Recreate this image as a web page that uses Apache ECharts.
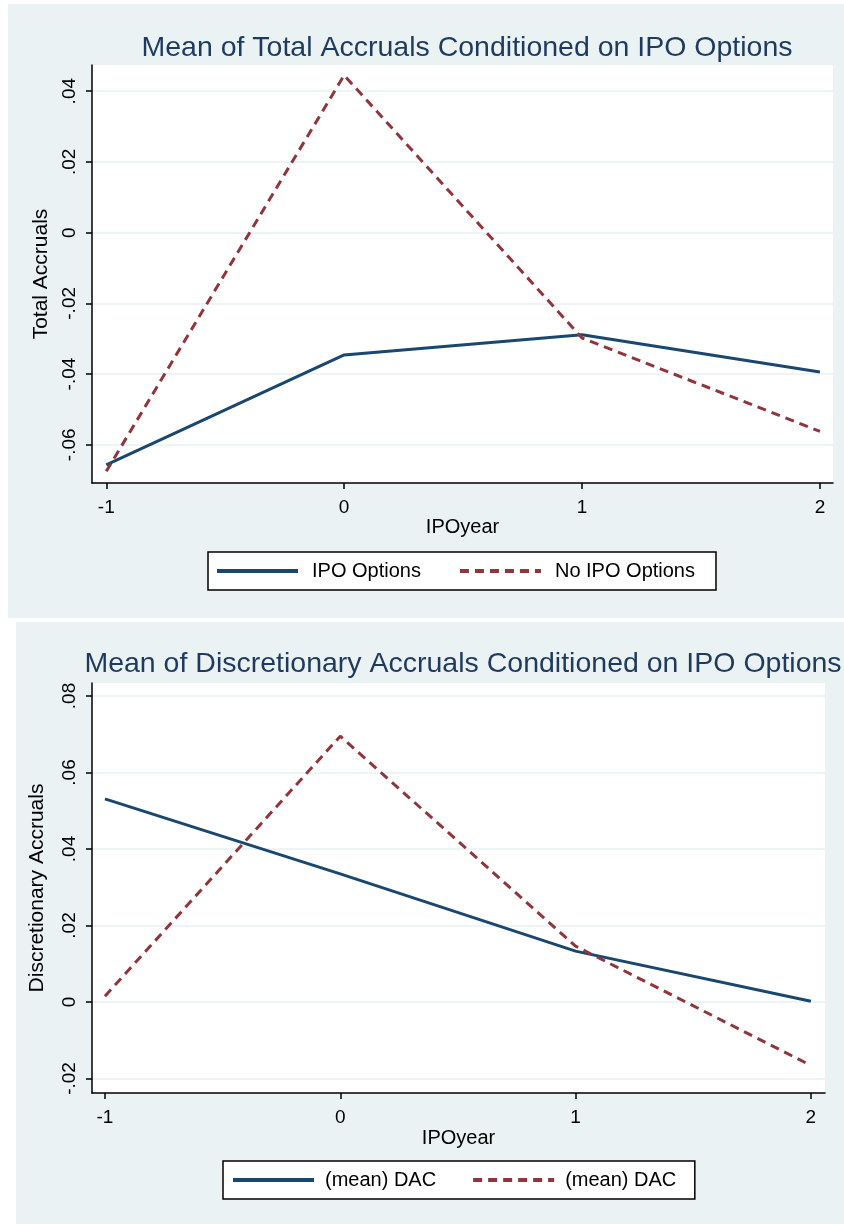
<!DOCTYPE html>
<html>
<head>
<meta charset="utf-8">
<script src="https://cdn.jsdelivr.net/npm/echarts@6/dist/echarts.min.js"></script>
<style>
  html, body { margin: 0; padding: 0; background: #fff; }
  #chart { width: 844px; height: 1224px; }
</style>
</head>
<body>
<div id="chart"></div>
<script>
const ipoYears = [-1, 0, 1, 2]

// top panel: total accruals
const taOptions = [-0.0657, -0.0346, -0.0289, -0.0394]
const taNoOptions = [-0.0675, 0.0445, -0.0298, -0.0562]
const taTicks = [-0.06, -0.04, -0.02, 0, 0.02, 0.04]

// bottom panel: discretionary accruals
const dacOptions = [0.0531, 0.0335, 0.0133, 0.0002]
const dacNoOptions = [0.0015, 0.0695, 0.0146, -0.0166]
const dacTicks = [-0.02, 0, 0.02, 0.04, 0.06, 0.08]

const navy = '#1a476f'
const maroon = '#90353b'
const panelBg = '#eaf2f3'
const titleColor = '#1e3a5f'
const font = 'Liberation Sans, Arial, sans-serif'

// stata style: .04 / -.02 / 0
const stataFmt = (v) => {
  if (Math.abs(v) < 1e-9) return '0'
  const s = (Math.round(v * 100) / 100).toFixed(2)
  return s.replace('0.', '.')
}

const pair = (arr) => ipoYears.map((x, i) => [x, arr[i]])

const chart = echarts.init(document.getElementById('chart'))

const xAxisBase = (gridIndex, min, max, nameGap) => ({
  type: 'value',
  gridIndex,
  min,
  max,
  name: 'IPOyear',
  nameLocation: 'middle',
  nameGap,
  nameTextStyle: { color: '#000', fontSize: 20, fontFamily: font },
  axisLine: { onZero: false, lineStyle: { color: '#000', width: 1.5 } },
  axisTick: { customValues: ipoYears, length: 6, lineStyle: { color: '#000', width: 1.5 } },
  axisLabel: { customValues: ipoYears, color: '#000', fontSize: 19, fontFamily: font, margin: 15 },
  splitLine: { show: false }
})

const yAxisBase = (gridIndex, min, max, ticks, name, nameGap) => ({
  type: 'value',
  gridIndex,
  min,
  max,
  name,
  nameLocation: 'middle',
  nameGap,
  nameTextStyle: { color: '#000', fontSize: 21, fontFamily: font },
  axisLine: { show: true, onZero: false, lineStyle: { color: '#000', width: 1.5 } },
  axisTick: { show: true, customValues: ticks, length: 6, lineStyle: { color: '#000', width: 1.5 } },
  axisLabel: {
    customValues: ticks,
    rotate: 90,
    color: '#000',
    fontSize: 19,
    fontFamily: font,
    margin: 13,
    formatter: stataFmt
  },
  splitLine: { show: true, lineStyle: { color: panelBg, width: 1.5 } }
})

const lineSeries = (name, data, idx, color, dashed) => ({
  name,
  type: 'line',
  xAxisIndex: idx,
  yAxisIndex: idx,
  data: pair(data),
  symbol: 'none',
  lineStyle: { color, width: 3, type: dashed ? [9, 6] : 'solid' },
  itemStyle: { color }
})

const legendBase = (top, left, padding, itemGap, textPad, items) => ({
  top,
  left,
  data: items,
  orient: 'horizontal',
  itemWidth: 81,
  itemHeight: 4,
  itemGap,
  padding,
  backgroundColor: '#fff',
  borderColor: '#000',
  borderWidth: 1.5,
  borderRadius: 0,
  itemStyle: { opacity: 0 },
  lineStyle: { width: 4 },
  textStyle: { color: '#000', fontSize: 20, fontFamily: font, padding: [0, 0, 0, textPad] }
})

const option = {
  backgroundColor: '#fff',
  animation: false,
  graphic: [
    { type: 'rect', left: 8, top: 4, shape: { width: 836, height: 614 }, style: { fill: panelBg }, z: -10 },
    { type: 'rect', left: 16, top: 622, shape: { width: 828, height: 602 }, style: { fill: panelBg }, z: -10 }
  ],
  title: [
    {
      text: 'Mean of Total Accruals Conditioned on IPO Options',
      left: 462, top: 29, textAlign: 'center',
      textStyle: { color: titleColor, fontSize: 28.5, fontWeight: 'normal', fontFamily: font }
    },
    {
      text: 'Mean of Discretionary Accruals Conditioned on IPO Options',
      left: 458, top: 645, textAlign: 'center',
      textStyle: { color: titleColor, fontSize: 28.5, fontWeight: 'normal', fontFamily: font }
    }
  ],
  grid: [
    { left: 92, top: 65, right: 11, bottom: 741, show: true, backgroundColor: '#fff', borderWidth: 0 },
    { left: 92, top: 683, right: 19, bottom: 131, show: true, backgroundColor: '#fff', borderWidth: 0 }
  ],
  xAxis: [
    xAxisBase(0, -1.06, 2.055, 30),
    xAxisBase(1, -1.055, 2.06, 35)
  ],
  yAxis: [
    yAxisBase(0, -0.0708, 0.0474, taTicks, 'Total Accruals', 38),
    yAxisBase(1, -0.0238, 0.0834, dacTicks, 'Discretionary Accruals', 44)
  ],
  legend: [
    legendBase(552, 208, [9, 21, 9, 7], 37, 9, ['IPO Options', 'No IPO Options']),
    legendBase(1161, 223, [9, 13, 9, 8], 35, 6, [{ name: '(mean) DAC' }, { name: '(mean) DAC ' }])
  ],
  series: [
    lineSeries('IPO Options', taOptions, 0, navy, false),
    lineSeries('No IPO Options', taNoOptions, 0, maroon, true),
    lineSeries('(mean) DAC', dacOptions, 1, navy, false),
    lineSeries('(mean) DAC ', dacNoOptions, 1, maroon, true)
  ]
}

chart.setOption(option)
</script>
</body>
</html>
